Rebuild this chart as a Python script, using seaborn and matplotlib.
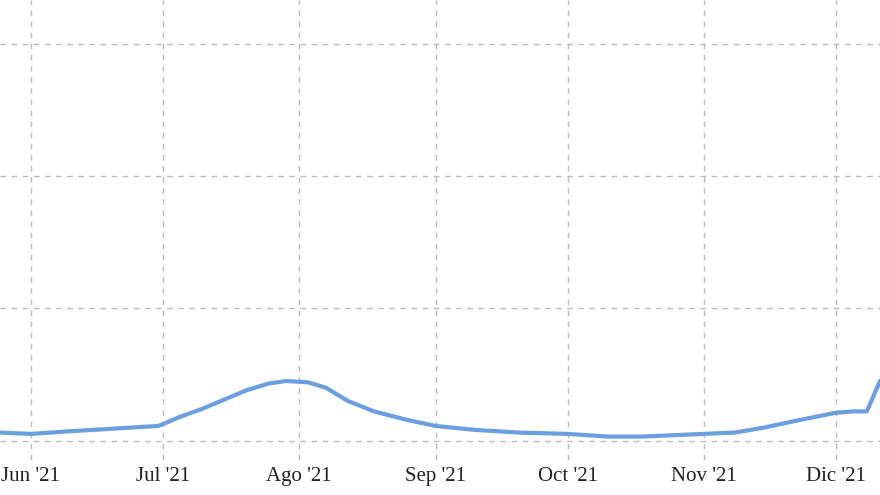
import matplotlib
matplotlib.use("Agg")
import matplotlib.pyplot as plt
import seaborn as sns
import pandas as pd

dates = ["2021-05-25","2021-06-01","2021-06-10","2021-06-20","2021-06-30","2021-07-05","2021-07-10",
         "2021-07-15","2021-07-20","2021-07-25","2021-07-29","2021-08-03","2021-08-07","2021-08-12",
         "2021-08-18","2021-08-25","2021-09-01","2021-09-10","2021-09-20","2021-10-01","2021-10-10",
         "2021-10-18","2021-10-25","2021-11-01","2021-11-08","2021-11-15","2021-11-22","2021-12-01",
         "2021-12-05","2021-12-08","2021-12-11"]
values = [0.06,0.05,0.07,0.09,0.11,0.18,0.24,0.31,0.38,0.43,0.45,0.44,0.40,0.30,
          0.22,0.16,0.11,0.08,0.06,0.05,0.03,0.03,0.04,0.05,0.06,0.10,0.15,0.21,0.22,0.22,0.45]
tick_dates = ["2021-06-01","2021-07-01","2021-08-01","2021-09-01","2021-10-01","2021-11-01","2021-12-01"]
tick_labels = ["Jun '21","Jul '21","Ago '21","Sep '21","Oct '21","Nov '21","Dic '21"]

df = pd.DataFrame({"date": pd.to_datetime(dates), "value": values})

sns.set_style("white")
fig = plt.figure(figsize=(8.8, 4.95), dpi=100)
ax = fig.add_axes([0, 0.07, 1, 0.93])
sns.lineplot(data=df, x="date", y="value", ax=ax, color="#6a9fe0", linewidth=3)
ax.set_xlim(pd.Timestamp("2021-05-25"), pd.Timestamp("2021-12-11"))
ax.set_ylim(-0.15, 3.33)
ax.set_yticks([0, 1, 2, 3])
ax.set_yticklabels([])
ax.set_xticks(pd.to_datetime(tick_dates))
ax.set_xticklabels(tick_labels, fontfamily="Liberation Serif", fontsize=15, color="#222222")
ax.tick_params(length=0, pad=5, left=False)
ax.grid(True, color="#bbbbbb", linestyle=(0, (4, 4)), linewidth=1)
for s in ax.spines.values():
    s.set_visible(False)
ax.set_xlabel("")
ax.set_ylabel("")
fig.savefig("out.png", dpi=100)
